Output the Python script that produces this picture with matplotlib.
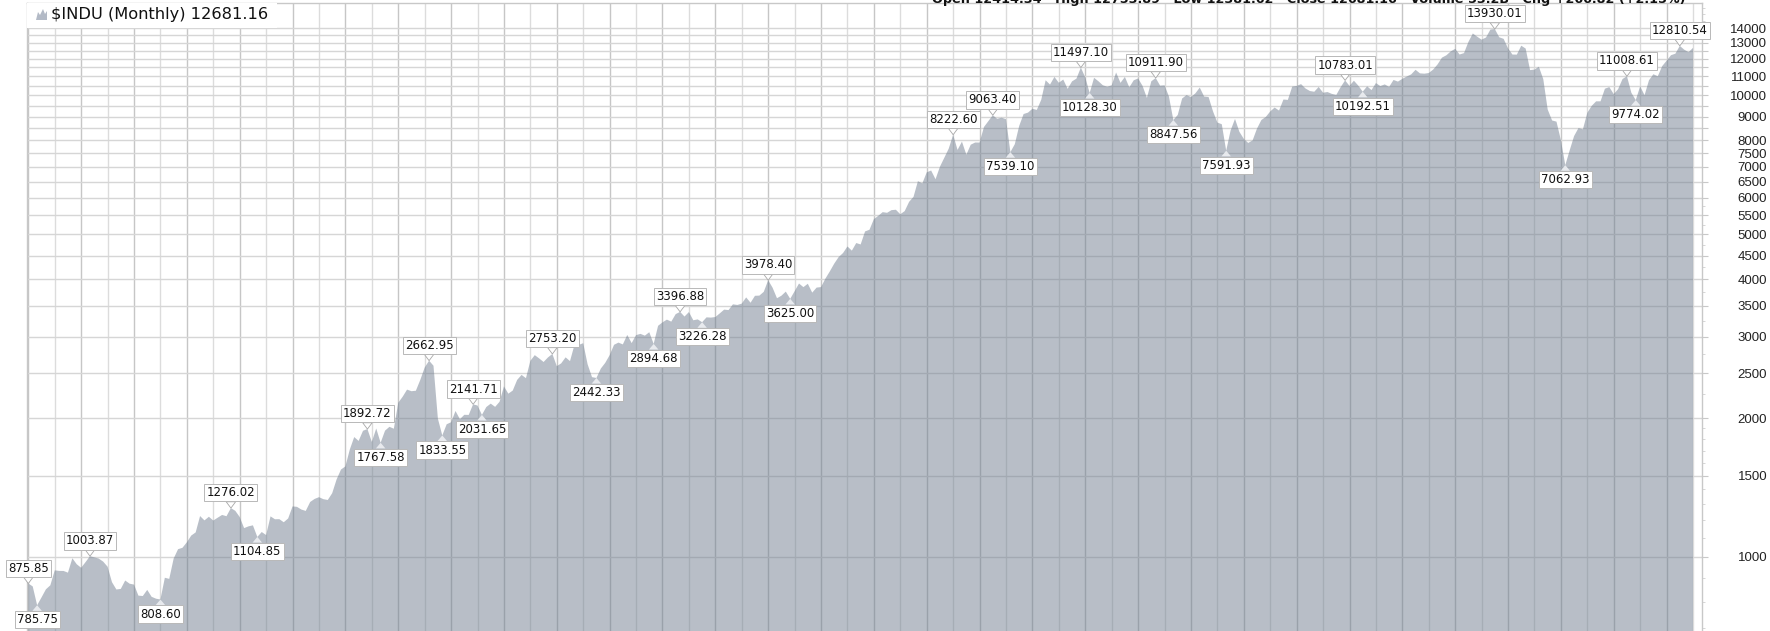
import numpy as np
import matplotlib.pyplot as plt
from matplotlib.patches import Rectangle, Polygon
from matplotlib.ticker import FixedLocator, MultipleLocator, FuncFormatter

W, H = 1770, 631
START_YEAR = 1980

# monthly closes of $INDU, Jan 1980 .. Jul 2011
c1980 = [875.85, 863.14, 785.75, 817.06, 850.85, 867.92, 935.32, 932.59, 932.42, 924.49, 993.34, 963.99]
c1981 = [947.27, 974.58, 1003.87, 997.75, 991.75, 976.88, 952.34, 881.47, 849.98, 852.55, 888.98, 875.00]
c1982 = [871.10, 824.39, 822.77, 848.36, 819.54, 811.93, 808.60, 901.31, 896.25, 991.72, 1039.28, 1046.54]
c1983 = [1075.70, 1112.62, 1130.03, 1226.20, 1199.98, 1221.96, 1199.22, 1216.16, 1233.13, 1225.20, 1276.02, 1258.64]
c1984 = [1220.58, 1154.63, 1164.89, 1170.75, 1104.85, 1132.40, 1115.28, 1224.38, 1206.71, 1207.38, 1188.94, 1211.57]
c1985 = [1286.77, 1284.01, 1266.78, 1258.06, 1315.41, 1335.46, 1347.45, 1334.01, 1328.63, 1374.31, 1472.13, 1546.67]
c1986 = [1570.99, 1709.06, 1818.61, 1783.98, 1876.71, 1892.72, 1775.31, 1898.34, 1767.58, 1877.81, 1914.23, 1895.95]
c1987 = [2158.04, 2223.99, 2304.69, 2286.36, 2291.57, 2418.53, 2572.07, 2662.95, 2596.28, 1993.53, 1833.55, 1938.83]
c1988 = [1958.22, 2071.62, 1988.06, 2032.33, 2031.12, 2141.71, 2128.73, 2031.65, 2112.91, 2148.65, 2114.51, 2168.57]
c1989 = [2342.32, 2258.39, 2293.62, 2418.80, 2480.15, 2440.06, 2660.66, 2737.27, 2692.82, 2645.08, 2706.27, 2753.20]
c1990 = [2590.54, 2627.25, 2707.21, 2656.76, 2876.66, 2880.69, 2905.20, 2614.36, 2452.48, 2442.33, 2559.65, 2633.66]
c1991 = [2736.39, 2882.18, 2913.86, 2887.87, 3027.50, 2906.75, 3024.82, 3043.60, 3016.77, 3069.10, 2894.68, 3168.83]
c1992 = [3223.39, 3267.67, 3235.47, 3359.12, 3396.88, 3318.52, 3393.78, 3257.35, 3271.66, 3226.28, 3305.16, 3301.11]
c1993 = [3310.03, 3370.81, 3435.11, 3427.55, 3527.43, 3516.08, 3539.47, 3651.25, 3555.12, 3680.59, 3683.95, 3754.09]
c1994 = [3978.40, 3832.02, 3635.96, 3681.69, 3758.37, 3625.00, 3764.50, 3913.42, 3843.19, 3908.12, 3739.23, 3834.44]
c1995 = [3843.86, 4011.05, 4157.69, 4321.27, 4465.14, 4556.10, 4708.47, 4610.56, 4789.08, 4755.48, 5074.49, 5117.12]
c1996 = [5395.30, 5485.62, 5587.14, 5569.08, 5643.18, 5654.63, 5528.91, 5616.21, 5882.17, 6029.38, 6521.70, 6448.27]
c1997 = [6813.09, 6877.74, 6583.48, 7008.99, 7331.04, 7672.79, 8222.60, 7622.42, 7945.26, 7442.08, 7823.13, 7908.25]
c1998 = [7906.50, 8545.72, 8799.81, 9063.40, 8899.95, 8952.02, 8883.29, 7539.10, 7842.62, 8592.10, 9116.55, 9181.43]
c1999 = [9358.83, 9306.58, 9786.16, 10789.04, 10559.74, 10970.80, 10655.15, 10829.28, 10336.95, 10729.86, 10877.81, 11497.10]
c2000 = [10940.53, 10128.30, 10921.92, 10733.91, 10522.33, 10447.89, 10521.98, 11215.10, 10650.92, 10971.14, 10414.49, 10786.85]
c2001 = [10887.36, 10495.28, 9878.78, 10734.97, 10911.90, 10502.40, 10522.81, 9949.75, 8847.56, 9075.14, 9851.56, 10021.50]
c2002 = [9920.00, 10106.13, 10403.94, 9946.22, 9925.25, 9243.26, 8736.59, 8663.50, 7591.93, 8397.03, 8896.09, 8341.63]
c2003 = [8053.81, 7891.08, 7992.13, 8480.09, 8850.26, 8985.44, 9233.80, 9415.82, 9275.06, 9801.12, 9782.46, 10453.92]
c2004 = [10488.07, 10583.92, 10357.70, 10225.57, 10188.45, 10435.48, 10139.71, 10173.92, 10080.27, 10027.47, 10428.02, 10783.01]
c2005 = [10489.94, 10766.23, 10503.76, 10192.51, 10467.48, 10274.97, 10640.91, 10481.60, 10568.70, 10440.07, 10805.87, 10717.50]
c2006 = [10864.86, 10993.41, 11109.32, 11367.14, 11168.31, 11150.22, 11185.68, 11381.15, 11679.07, 12080.73, 12221.93, 12463.15]
c2007 = [12621.69, 12268.63, 12354.35, 13062.91, 13627.64, 13408.62, 13211.99, 13357.74, 13895.63, 13930.01, 13371.72, 13264.82]
c2008 = [12650.36, 12266.39, 12262.89, 12820.13, 12638.32, 11350.01, 11378.02, 11543.55, 10850.66, 9325.01, 8829.04, 8776.39]
c2009 = [8000.86, 7062.93, 7608.92, 8168.12, 8500.33, 8447.00, 9171.61, 9496.28, 9712.28, 9712.73, 10344.84, 10428.05]
c2010 = [10067.33, 10325.26, 10856.63, 11008.61, 10136.63, 9774.02, 10465.94, 10014.72, 10788.05, 11118.49, 11006.02, 11577.51]
c2011 = [11891.93, 12226.34, 12319.73, 12810.54, 12569.79, 12414.34, 12681.16]

# labelled turning points
peaks = ["1980-01", "1981-03", "1983-11", "1986-06", "1987-08", "1988-06", "1989-12",
         "1992-05", "1994-01", "1997-07", "1998-04", "1999-12", "2001-05", "2004-12",
         "2007-10", "2010-04", "2011-04"]
troughs = ["1980-03", "1982-07", "1984-05", "1986-09", "1987-11", "1988-08", "1990-10",
           "1991-11", "1992-10", "1994-06", "1998-08", "2000-02", "2001-09", "2002-09",
           "2005-04", "2009-02", "2010-06"]

y_labels = [1000, 1500, 2000, 2500, 3000, 3500, 4000, 4500, 5000, 5500, 6000, 6500,
            7000, 7500, 8000, 9000, 10000, 11000, 12000, 13000, 14000]
grid_levels = list(range(1000, 14001, 500))
minor_levels = list(range(700, 2000, 100)) + list(range(2000, 6000, 250)) + list(range(6000, 16000, 500))

title = "$INDU (Monthly) 12681.16"
header = "Open 12414.34   High 12753.89   Low 12381.62   Close 12681.16   Volume 53.2B   Chg +266.82 (+2.15%)"

closes = np.array(c1980 + c1981 + c1982 + c1983 + c1984 + c1985 + c1986 + c1987 +
                  c1988 + c1989 + c1990 + c1991 + c1992 + c1993 + c1994 + c1995 +
                  c1996 + c1997 + c1998 + c1999 + c2000 + c2001 + c2002 + c2003 +
                  c2004 + c2005 + c2006 + c2007 + c2008 + c2009 + c2010 + c2011)
months = np.arange(len(closes))


def month_index(s):
    y, m = s.split("-")
    return (int(y) - START_YEAR) * 12 + int(m) - 1


fig = plt.figure(figsize=(W / 100, H / 100), dpi=100)
ax = fig.add_axes([27 / W, 0, (1702 - 27) / W, (H - 3) / H])
ax.set_yscale("log")
ax.set_ylim(691, 15865)
ax.set_xlim(-0.3, 380.04)

# grid under a semi transparent area so the lines show darker through it
ax.set_axisbelow(True)
ax.xaxis.set_major_locator(MultipleLocator(12))
ax.xaxis.set_minor_locator(MultipleLocator(6))
ax.grid(which="major", axis="x", color="#c6c6c6", linewidth=1.0)
ax.grid(which="minor", axis="x", color="#dcdcdc", linewidth=1.0)
ax.yaxis.set_major_locator(FixedLocator(grid_levels))
ax.yaxis.set_minor_locator(FixedLocator(minor_levels))
ax.grid(which="major", axis="y", color="#d6d6d6", linewidth=1.0)
ax.tick_params(axis="x", which="both", length=0, labelbottom=False)

ax.fill_between(months, closes, 1, color="#6e7c8e", alpha=0.49, linewidth=0, zorder=2)

# right hand price scale
ax.yaxis.tick_right()
ax.yaxis.set_major_formatter(FuncFormatter(lambda v, p: f"{int(v)}" if int(round(v)) in y_labels else ""))
ax.yaxis.set_minor_formatter(FuncFormatter(lambda v, p: ""))
ax.tick_params(axis="y", which="major", length=4, color="#c8c8c8", pad=43,
               labelsize=9.5, labelcolor="#222222")
ax.tick_params(axis="y", which="minor", length=2, color="#d0d0d0")
for lab in ax.yaxis.get_majorticklabels():
    lab.set_horizontalalignment("right")
    lab.set_fontfamily("Liberation Sans")

for side in ["top", "left", "right"]:
    ax.spines[side].set_color("#c8c8c8")
    ax.spines[side].set_linewidth(1.0)
ax.spines["bottom"].set_visible(False)

# callout labels
lab_kw = dict(textcoords="offset points", ha="center", va="center", fontsize=8.5,
              color="#111111", zorder=6, annotation_clip=False,
              bbox=dict(boxstyle="square,pad=0.18", fc="white", ec="#b8b8b8", lw=0.7))
for s in peaks:
    i = month_index(s)
    v = closes[i]
    ax.annotate(f"{v:.2f}", xy=(i, v), xytext=(0, 11), **lab_kw,
                arrowprops=dict(arrowstyle="wedge,tail_width=0.8", fc="white", ec="#a8a8a8",
                                lw=0.6, shrinkA=0, shrinkB=0))
for s in troughs:
    i = month_index(s)
    v = closes[i]
    ax.annotate(f"{v:.2f}", xy=(i, v), xytext=(0, -10.5), **lab_kw,
                arrowprops=dict(arrowstyle="wedge,tail_width=0.8", fc="#eef0f3", ec="none",
                                alpha=0.9, shrinkA=0, shrinkB=0))

# legend strip top left
ax.add_patch(Rectangle((0, 1 - 25 / (H - 3)), 250 / (W * ax.get_position().width), 25 / (H - 3),
                       transform=ax.transAxes, fc="white", ec="none", zorder=4))
icon = [(36, 20), (38, 12), (40, 15), (43, 9), (45, 14), (47, 11), (47, 20)]
fig.patches.append(Polygon([(x / W, 1 - y / H) for x, y in icon], closed=True,
                           transform=fig.transFigure, fc="#b3bac6", ec="none", zorder=5))
fig.text(51 / W, 1 - 15 / H, title, fontsize=11.7, va="center", ha="left", color="#111111", zorder=6)

# header line, mostly cut off by the top edge like in the source
fig.text(1686 / W, 1 - 3 / H, header, fontsize=9.2, fontweight="bold", ha="right",
         va="baseline", color="#111111")

fig.savefig("out.png", dpi=100)
